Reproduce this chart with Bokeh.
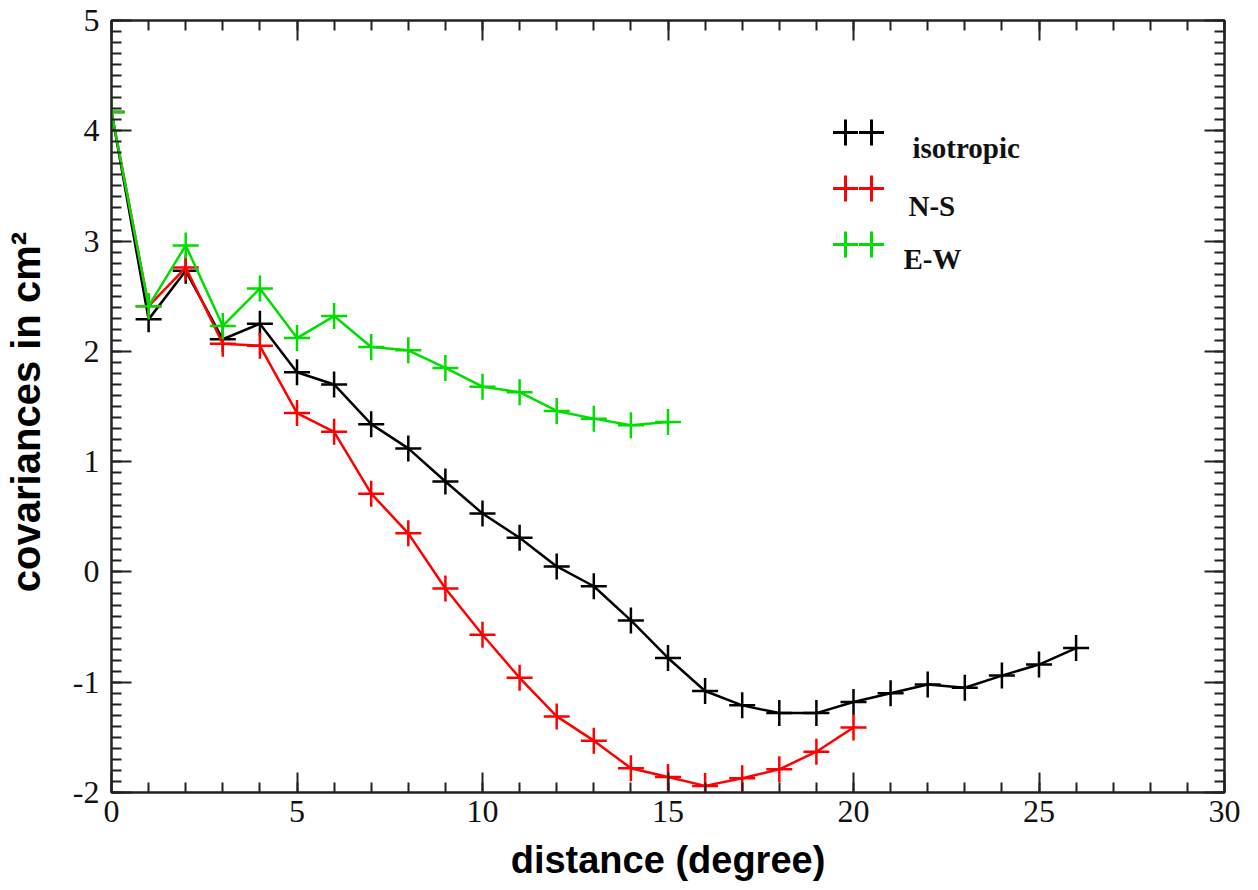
from bokeh.plotting import figure
from bokeh.models import (Range1d, LinearAxis, SingleIntervalTicker, Label, Arrow,
                          CustomJSTickFormatter)
from bokeh.embed import file_html
from bokeh.resources import INLINE

# ---- data ----
iso_x = list(range(0, 27))
iso_y = [4.17, 2.29, 2.73, 2.11, 2.25, 1.81, 1.70, 1.34, 1.12, 0.82, 0.53, 0.31, 0.05,
         -0.13, -0.44, -0.78, -1.08, -1.21, -1.28, -1.28, -1.18, -1.10, -1.02, -1.05,
         -0.94, -0.84, -0.69]
ns_x = list(range(0, 21))
ns_y = [4.17, 2.41, 2.76, 2.07, 2.05, 1.44, 1.27, 0.71, 0.35, -0.15, -0.57, -0.96,
        -1.31, -1.53, -1.78, -1.86, -1.94, -1.87, -1.79, -1.63, -1.41]
ew_x = list(range(0, 16))
ew_y = [4.17, 2.41, 2.96, 2.23, 2.57, 2.12, 2.32, 2.04, 2.01, 1.85, 1.68, 1.63, 1.46,
        1.39, 1.33, 1.36]
series_names = ["isotropic", "N-S", "E-W"]
series_colors = ["#000000", "#ff0000", "#00dd00"]

p = figure(frame_width=1113, frame_height=772, output_backend="svg",
           toolbar_location=None,
           x_range=Range1d(0, 30), y_range=Range1d(-2, 5),
           min_border_left=110, min_border_right=24, min_border_top=20,
           min_border_bottom=92)
p.xgrid.visible = False
p.ygrid.visible = False
p.outline_line_color = "#222222"
p.outline_line_width = 2

serif = "Liberation Serif"
sans = "Liberation Sans"

int_fmt = CustomJSTickFormatter(code="return tick.toFixed(0);")
blank_fmt = CustomJSTickFormatter(code="return '';")

def style_axis(ax, labels=True):
    ax.axis_line_color = "#222222"
    ax.axis_line_width = 2
    ax.major_tick_in = 20
    ax.major_tick_out = 0
    ax.minor_tick_in = 10
    ax.minor_tick_out = 0
    ax.major_tick_line_color = "#222222"
    ax.minor_tick_line_color = "#222222"
    ax.major_tick_line_width = 2
    ax.minor_tick_line_width = 2
    if labels:
        ax.formatter = int_fmt
        ax.major_label_text_font = serif
        ax.major_label_text_font_size = "32px"
        ax.major_label_text_color = "#111111"
    else:
        ax.formatter = blank_fmt
        ax.major_label_standoff = 0

xt = SingleIntervalTicker(interval=5, num_minor_ticks=5)
yt = SingleIntervalTicker(interval=1, num_minor_ticks=10)
p.xaxis.ticker = xt
p.yaxis.ticker = yt
style_axis(p.xaxis[0])
style_axis(p.yaxis[0])
p.xaxis.major_label_standoff = 8
p.yaxis.major_label_standoff = 12

p.xaxis.axis_label = "distance (degree)"
p.xaxis.axis_label_text_font = sans
p.xaxis.axis_label_text_font_style = "bold"
p.xaxis.axis_label_text_font_size = "38px"
p.xaxis.axis_label_standoff = 14
p.xaxis.axis_label_text_color = "#000000"

p.yaxis.axis_label = "covariances  in cm²"
p.yaxis.axis_label_text_font = sans
p.yaxis.axis_label_text_font_style = "bold"
p.yaxis.axis_label_text_font_size = "40px"
p.yaxis.axis_label_standoff = 22
p.yaxis.axis_label_text_color = "#000000"

top_ax = LinearAxis(ticker=SingleIntervalTicker(interval=5, num_minor_ticks=5))
right_ax = LinearAxis(ticker=SingleIntervalTicker(interval=1, num_minor_ticks=10))
style_axis(top_ax, labels=False)
style_axis(right_ax, labels=False)
p.add_layout(top_ax, "above")
p.add_layout(right_ax, "right")

# ---- series ----
for xs, ys, c in [(iso_x, iso_y, series_colors[0]),
                  (ns_x, ns_y, series_colors[1]),
                  (ew_x, ew_y, series_colors[2])]:
    p.line(xs, ys, line_color=c, line_width=2.5)
    p.scatter(xs, ys, marker="cross", size=26, line_color=c, line_width=2.5)

# ---- legend (drawn manually: "++" markers and serif bold text) ----
frame_left = 111
frame_bottom = 792
leg_rows_y = [132, 188, 244]
leg_text_x = [912, 908, 903]
leg_text_base = [147, 205, 258]
for i in range(3):
    c = series_colors[i]
    cy = frame_bottom - leg_rows_y[i]
    for cx_page in (845, 871):
        cx = cx_page - frame_left
        p.add_layout(Arrow(x_start=cx - 12.5, y_start=cy, x_end=cx + 12.5, y_end=cy,
                           start_units="screen", end_units="screen", end=None,
                           line_color=c, line_width=3))
        p.add_layout(Arrow(x_start=cx, y_start=cy - 13, x_end=cx, y_end=cy + 13,
                           start_units="screen", end_units="screen", end=None,
                           line_color=c, line_width=3))
    p.add_layout(Label(x=leg_text_x[i] - frame_left, y=frame_bottom - leg_text_base[i],
                       x_units="screen", y_units="screen", text=series_names[i],
                       text_font=serif, text_font_style="bold", text_font_size="29px",
                       text_color="#111111", text_baseline="alphabetic"))

open("out.html", "w").write(file_html(p, INLINE))
